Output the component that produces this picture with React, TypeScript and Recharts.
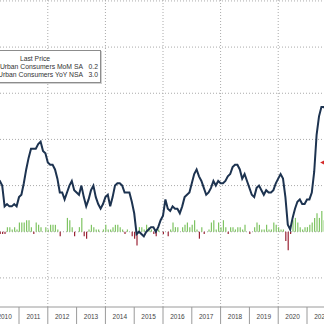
import {
  ComposedChart,
  Bar,
  Line,
  Cell,
  XAxis,
  YAxis,
  CartesianGrid,
  ReferenceDot,
} from "recharts";

const years = [2010, 2011, 2012, 2013, 2014, 2015, 2016, 2017, 2018, 2019, 2020, 2021];

// CPI YoY NSA, % (Jan..Dec)
const yoy = [
  [2.6, 2.1, 2.3, 2.2, 2.0, 1.1, 1.2, 1.1, 1.1, 1.2, 1.1, 1.5],
  [1.6, 2.1, 2.7, 3.2, 3.6, 3.6, 3.6, 3.8, 3.9, 3.5, 3.4, 3.0],
  [2.9, 2.9, 2.7, 2.3, 1.7, 1.7, 1.4, 1.7, 2.0, 2.2, 1.8, 1.7],
  [1.6, 2.0, 1.5, 1.1, 1.4, 1.8, 2.0, 1.5, 1.2, 1.0, 1.2, 1.5],
  [1.6, 1.1, 1.5, 2.0, 2.1, 2.1, 2.0, 1.7, 1.7, 1.7, 1.3, 0.8],
  [-0.1, 0.0, -0.1, -0.2, 0.0, 0.1, 0.2, 0.2, 0.0, 0.2, 0.5, 0.7],
  [1.4, 1.0, 0.9, 1.1, 1.0, 1.0, 0.8, 1.1, 1.5, 1.6, 1.7, 2.1],
  [2.5, 2.7, 2.4, 2.2, 1.9, 1.6, 1.7, 1.9, 2.2, 2.0, 2.2, 2.1],
  [2.1, 2.2, 2.4, 2.5, 2.8, 2.9, 2.9, 2.7, 2.3, 2.5, 2.2, 1.9],
  [1.6, 1.5, 1.9, 2.0, 1.8, 1.6, 1.8, 1.7, 1.7, 1.8, 2.1, 2.3],
  [2.5, 2.3, 1.5, 0.3, 0.1, 0.6, 1.0, 1.3, 1.4, 1.2, 1.2, 1.4],
  [1.4, 1.7, 2.6, 4.2, 5.0, 5.4, 5.4, 5.3, 5.4],
];

// CPI MoM SA, %
const mom = [
  [0.1, 0.0, 0.0, -0.1, -0.1, -0.1, 0.2, 0.2, 0.1, 0.2, 0.1, 0.4],
  [0.4, 0.4, 0.5, 0.5, 0.2, -0.1, 0.4, 0.3, 0.2, 0.0, 0.2, 0.1],
  [0.3, 0.3, 0.3, 0.1, -0.2, 0.0, 0.0, 0.6, 0.5, 0.2, -0.2, 0.0],
  [0.2, 0.6, -0.2, -0.3, 0.1, 0.3, 0.2, 0.1, 0.1, 0.0, 0.1, 0.3],
  [0.1, 0.1, 0.2, 0.3, 0.3, 0.2, 0.1, -0.1, 0.1, 0.0, -0.2, -0.3],
  [-0.6, 0.2, 0.2, 0.1, 0.3, 0.2, 0.1, -0.1, -0.2, 0.1, 0.0, -0.1],
  [0.0, -0.2, 0.1, 0.4, 0.2, 0.2, 0.0, 0.2, 0.3, 0.4, 0.2, 0.3],
  [0.5, 0.1, -0.3, 0.2, -0.1, 0.0, 0.1, 0.4, 0.5, 0.1, 0.4, 0.2],
  [0.5, 0.2, -0.1, 0.2, 0.2, 0.1, 0.2, 0.2, 0.1, 0.3, 0.0, -0.1],
  [0.0, 0.2, 0.4, 0.3, 0.1, 0.1, 0.3, 0.1, 0.1, 0.4, 0.3, 0.2],
  [0.1, 0.1, -0.4, -0.8, -0.1, 0.5, 0.6, 0.4, 0.2, 0.1, 0.2, 0.2],
  [0.3, 0.4, 0.6, 0.8, 0.6, 0.9, 0.5, 0.3, 0.4],
];

const lastYoY = 3.0;
const yTicks = [-2, 0, 2, 4, 6, 8, 10];
const gridYears = [2012, 2014, 2016, 2018, 2020];

const data = years.flatMap((yr, i) =>
  yoy[i].map((v, m) => ({ t: yr + (m + 1) / 12, yoy: v, mom: mom[i][m] }))
);

const xTicks: number[] = [];
for (let y = 2010; y <= 2022; y += 0.5) xTicks.push(y);

const font = "'Liberation Sans', Arial, sans-serif";

function YearTick(props: any) {
  const { x, y, payload } = props;
  const v = payload.value;
  if (Number.isInteger(v)) {
    return <line x1={x} y1={y} x2={x} y2={y + 20} stroke="#9a9a9a" strokeWidth={1} />;
  }
  return (
    <text x={x} y={y + 12} textAnchor="middle" fontSize={6.5} fill="#444" fontFamily={font}>
      {Math.floor(v)}
    </text>
  );
}

function LastArrow(props: any) {
  const { cx, cy } = props;
  return <path d={`M${cx - 3},${cy} L${cx + 2},${cy - 2.5} L${cx + 2},${cy + 2.5} Z`} fill="#d42a2a" />;
}

export default function App() {
  return (
    <div style={{ position: "absolute", left: 0, top: 0, width: 324, height: 324, overflow: "hidden", background: "#fff" }}>
      <ComposedChart width={324} height={324} data={data} margin={{ top: 0, right: 0, bottom: 0, left: 0 }}>
        <CartesianGrid
          stroke="#aaaaaa"
          strokeDasharray="1 2"
          horizontalValues={yTicks}
          verticalValues={gridYears}
        />
        <XAxis
          dataKey="t"
          type="number"
          domain={[2010.34, 2021.59]}
          allowDataOverflow
          ticks={xTicks}
          interval={0}
          tick={<YearTick />}
          tickLine={false}
          tickSize={0}
          tickMargin={0}
          height={17}
          axisLine={{ stroke: "#9a9a9a" }}
        />
        <YAxis hide type="number" domain={[-3.26, 10.04]} allowDataOverflow />
        <Bar dataKey="mom" barSize={1.2} isAnimationActive={false}>
          {data.map((d, i) => (
            <Cell key={i} fill={d.mom < 0 ? "#9b2335" : "#7fc463"} />
          ))}
        </Bar>
        <Line
          dataKey="yoy"
          type="linear"
          stroke="#1d3350"
          strokeWidth={2}
          dot={false}
          isAnimationActive={false}
        />
        <ReferenceDot x={2021.56} y={lastYoY} shape={<LastArrow />} ifOverflow="visible" />
      </ComposedChart>
      <div
        style={{
          position: "absolute",
          left: -40,
          top: 50,
          width: 139,
          height: 31,
          background: "#fff",
          border: "1px solid #8c8c8c",
          boxShadow: "1px 1px 0 #d0d0d0",
          fontFamily: font,
          fontSize: 6.8,
          color: "#333",
          lineHeight: "7.5px",
        }}
      >
        <div style={{ position: "absolute", left: 40, width: 68, top: 4, textAlign: "center" }}>Last Price</div>
        <div style={{ position: "absolute", right: 17, top: 12, whiteSpace: "nowrap" }}>CPI Urban Consumers MoM SA</div>
        <div style={{ position: "absolute", right: 2, top: 12 }}>0.2</div>
        <div style={{ position: "absolute", right: 17, top: 20, whiteSpace: "nowrap" }}>CPI Urban Consumers YoY NSA</div>
        <div style={{ position: "absolute", right: 2, top: 20 }}>3.0</div>
      </div>
    </div>
  );
}
